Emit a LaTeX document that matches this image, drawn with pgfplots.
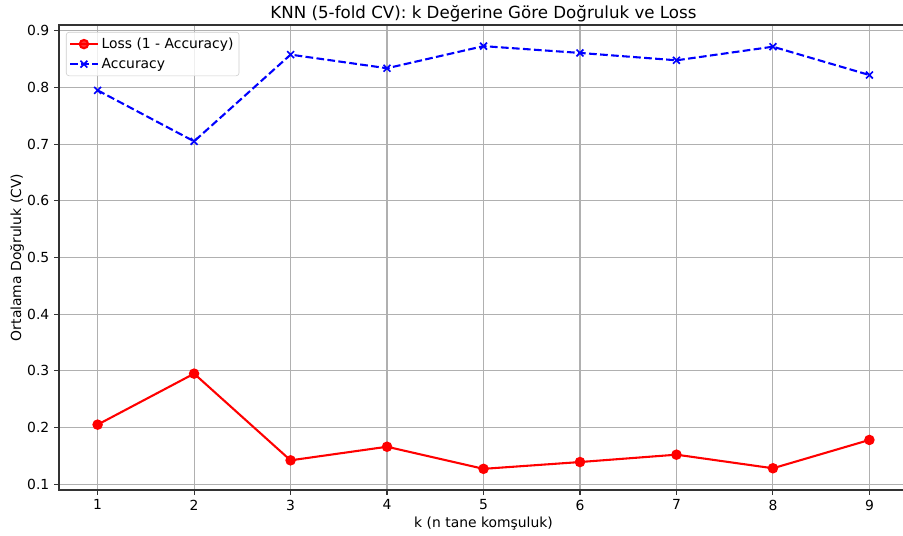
\documentclass[border=0pt]{standalone}
\usepackage{fontspec}
\setmainfont{DejaVu Sans}
\usepackage{pgfplots}
\pgfplotsset{compat=1.18}
\definecolor{gridgray}{HTML}{B0B0B0}
\definecolor{spine}{HTML}{333333}
\definecolor{legframe}{HTML}{CCCCCC}
\begin{document}
\begin{tikzpicture}
\begin{axis}[
  scale only axis,
  width=611.3pt, height=334.8pt,
  xmin=0.6, xmax=9.4,
  ymin=0.0897, ymax=0.9103,
  xtick={1,2,...,9},
  ytick={0.1,0.2,...,0.9},
  yticklabel style={/pgf/number format/.cd, fixed, precision=1},
  /pgf/number format/assume math mode=true,
  tick label style={font=\fontsize{10}{12}\selectfont},
  tick align=outside, tick pos=left,
  major tick length=3.5pt,
  every tick/.style={spine, line width=0.8pt},
  axis line style={spine, line width=0.8pt},
  grid=major,
  major grid style={gridgray, line width=0.8pt},
  title={KNN (5-fold CV): k Değerine Göre Doğruluk ve Loss},
  every axis title/.style={font=\fontsize{12}{14}\selectfont, at={(axis description cs:0.5,1)}, anchor=base, yshift=4.6pt},
  xlabel={k (n tane komşuluk)},
  ylabel={Ortalama Doğruluk (CV)},
  label style={font=\fontsize{10}{12}\selectfont},
  every axis x label/.style={at={(axis description cs:0.5,-0.072)}, anchor=center},
  every axis y label/.style={at={(axis description cs:-0.0494,0.5)}, rotate=90, anchor=center},
  legend style={at={(axis description cs:0,1)}, anchor=north west, xshift=5pt, yshift=-5pt,
    font=\fontsize{10}{12}\selectfont, draw=legframe, rounded corners=2pt, fill=white, fill opacity=0.8, text opacity=1,
    inner xsep=2pt, inner ysep=2pt, row sep=1.5pt},
  legend cell align=left,
  legend image code/.code={\draw[mark repeat=2, mark phase=2] plot coordinates {(0pt,0pt) (10pt,0pt) (20pt,0pt)};},
]
\addplot[red, line width=1.5pt, mark=*, mark size=3pt, mark options={solid, fill=red}] coordinates {
  (1,0.205) (2,0.295) (3,0.142) (4,0.166) (5,0.127) (6,0.139) (7,0.152) (8,0.128) (9,0.178)
};
\addlegendentry{Loss (1 - Accuracy)}
\addplot[blue, line width=1.5pt, dash pattern=on 5.55pt off 2.4pt, mark=x, mark size=3.5pt, mark options={solid, line width=1.2pt}] coordinates {
  (1,0.795) (2,0.705) (3,0.858) (4,0.834) (5,0.873) (6,0.861) (7,0.848) (8,0.872) (9,0.822)
};
\addlegendentry{Accuracy}
\end{axis}
\pgfresetboundingbox
\useasboundingbox (-42.5pt,-33.1pt) rectangle (607.7pt,352.8pt);
\end{tikzpicture}
\end{document}
